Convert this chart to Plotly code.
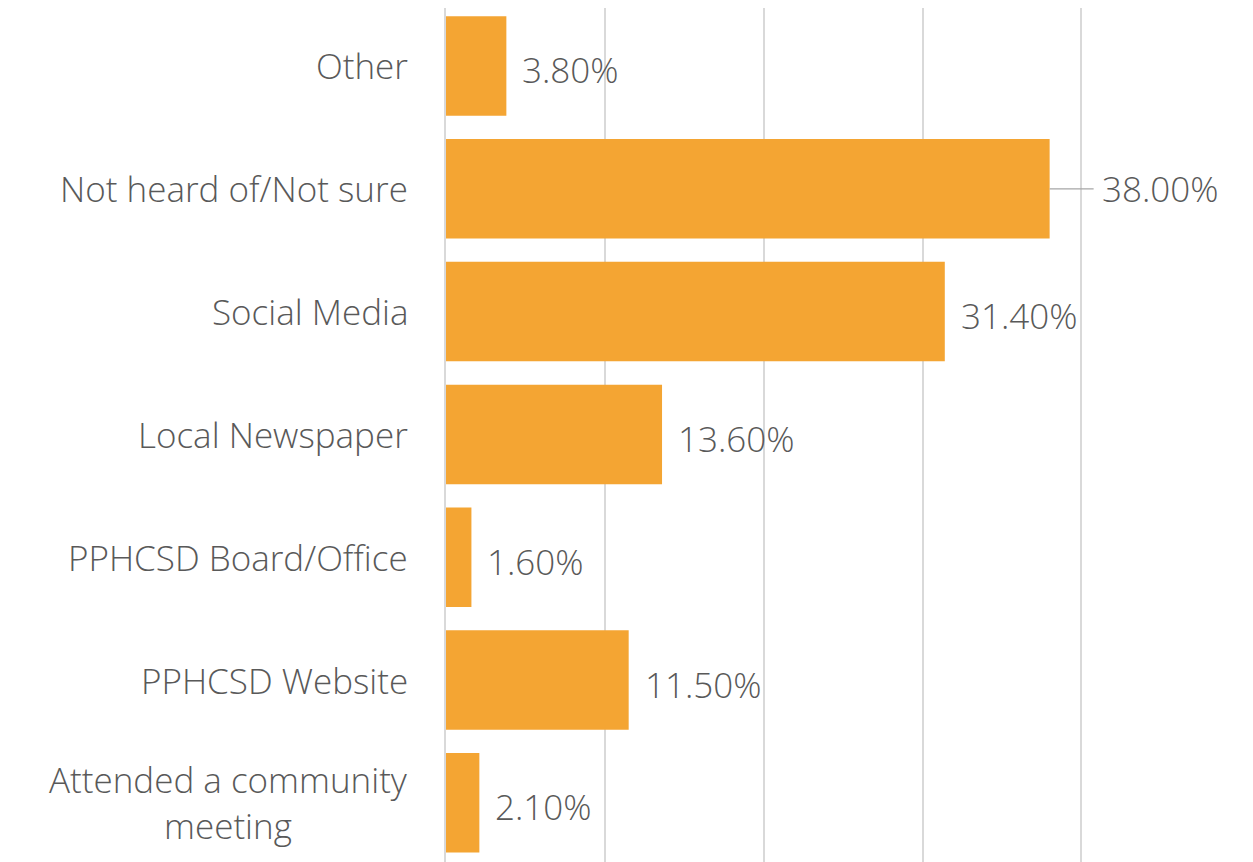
import plotly.graph_objects as go

# categories listed bottom-to-top (plotly draws first category at the bottom)
categories = [
    "Attended a community<br>meeting",
    "PPHCSD Website",
    "PPHCSD Board/Office",
    "Local Newspaper",
    "Social Media",
    "Not heard of/Not sure",
    "Other",
]
values = [2.1, 11.5, 1.6, 13.6, 31.4, 38.0, 3.8]
value_labels = ["2.10%", "11.50%", "1.60%", "13.60%", "31.40%", "38.00%", "3.80%"]

BAR_COLOR = "#F4A533"
TEXT_COLOR = "#595959"
FONT = "Open Sans"
FONT_SIZE = 35

fig = go.Figure(
    go.Bar(
        x=values,
        y=categories,
        orientation="h",
        marker=dict(color=BAR_COLOR, line=dict(width=0)),
        hoverinfo="skip",
    )
)

label_font = dict(family=FONT, size=FONT_SIZE, color=TEXT_COLOR, weight=300)

annotations = []
# category labels (centred multi-line, like the original)
for cat in categories:
    annotations.append(dict(
        x=0, xref="paper", y=cat, yref="y",
        text=cat, showarrow=False,
        xanchor="right", align="center", xshift=-36,
        font=label_font,
    ))

# value labels
for cat, v, lab in zip(categories, values, value_labels):
    if v == max(values):
        annotations.append(dict(
            x=v, y=cat, xref="x", yref="y",
            text=lab, showarrow=True, arrowhead=0, arrowwidth=1.3,
            arrowcolor="#A6A6A6", ax=44, ay=0, xanchor="left",
            borderpad=7,
            font=label_font,
        ))
    else:
        annotations.append(dict(
            x=v, y=cat, xref="x", yref="y",
            text=lab, showarrow=False, xanchor="left",
            xshift=14, yshift=-4,
            font=label_font,
        ))

fig.update_layout(
    width=1253,
    height=862,
    margin=dict(l=438, r=178, t=0, b=0),
    paper_bgcolor="white",
    plot_bgcolor="white",
    showlegend=False,
    bargap=0.19,
    annotations=annotations,
    xaxis=dict(
        range=[0, 40.1],
        tickvals=[10, 20, 30, 40],
        showgrid=True,
        gridcolor="#D9D9D9",
        gridwidth=1.5,
        showticklabels=False,
        zeroline=False,
        showline=False,
        fixedrange=True,
    ),
    yaxis=dict(
        range=[-0.547, 6.472],
        showticklabels=False,
        showgrid=False,
        showline=True,
        linecolor="#D9D9D9",
        linewidth=1.5,
        fixedrange=True,
    ),
)

fig.write_html("out.html")
